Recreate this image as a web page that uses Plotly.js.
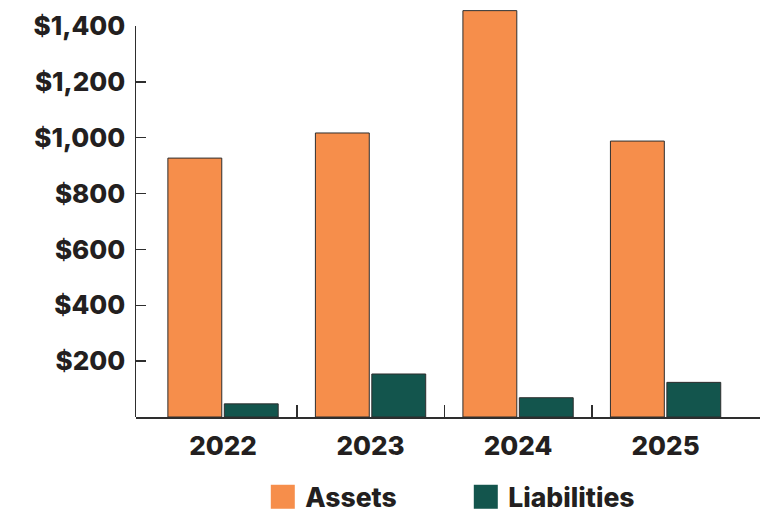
<!DOCTYPE html>
<html>
<head>
<meta charset="utf-8">
<script src="https://cdn.plot.ly/plotly-3.0.1.min.js"></script>
<style>html,body{margin:0;padding:0;background:#fff;}#chart{width:774px;height:514px;}</style>
</head>
<body>
<div id="chart"></div>
<script>
const years = ["2022", "2023", "2024", "2025"];
const assets = [927, 1017, 1455, 988];
const liabilities = [47, 154, 69, 124];
const yTickVals = [200, 400, 600, 800, 1000, 1200, 1400];
const yTickText = ["$200", "$400", "$600", "$800", "$1,000", "$1,200", "$1,400"];
const boundaryTicks = [0.5, 1.5, 2.5, 3.64];

const FONT = "Inter, 'DejaVu Sans', sans-serif";
const INK = "#231f20";
const OUTLINE = "#2e2e2e";

// y scale: 1400 units over 391 px; the plot height extends above so the tallest bar fits
const PLOT_H = 408;
const AXIS_H = 391;
const Y_TOP = 1400 * PLOT_H / AXIS_H;

const data = [
  {type: "bar", name: "Assets", x: years, y: assets,
   marker: {color: "#f68e4b", line: {color: OUTLINE, width: 1}},
   cliponaxis: false, hoverinfo: "skip"},
  {type: "bar", name: "Liabilities", x: years, y: liabilities,
   marker: {color: "#13554d", line: {color: OUTLINE, width: 1}},
   cliponaxis: false, hoverinfo: "skip"},
  {type: "scatter", x: [], y: [], xaxis: "x2", yaxis: "y2", showlegend: false, hoverinfo: "skip"}
];

const layout = {
  width: 774, height: 514,
  margin: {l: 136, r: 14, t: 514 - 97 - PLOT_H, b: 97, autoexpand: false},
  paper_bgcolor: "#ffffff", plot_bgcolor: "rgba(0,0,0,0)",
  barmode: "group", bargap: 0.235, bargroupgap: 0.045,
  font: {family: FONT, color: INK, size: 24, weight: 800},
  showlegend: true,
  legend: {orientation: "h", x: 0.2072, xanchor: "left", xref: "paper",
    y: 0.033, yanchor: "middle", yref: "container",
    font: {family: FONT, size: 26.5, color: INK, weight: 800}, itemwidth: 30,
    entrywidth: 158, entrywidthmode: "pixels",
    bgcolor: "rgba(0,0,0,0)"},
  xaxis: {type: "category", range: [-0.59, 3.64], showgrid: false, zeroline: false,
    showline: true, linecolor: OUTLINE, linewidth: 1.5, ticks: "", anchor: "y",
    tickfont: {family: FONT, size: 26, color: INK, weight: 800}, ticklabelstandoff: 5, fixedrange: true},
  xaxis2: {overlaying: "x", range: [-0.59, 3.64], showgrid: false, zeroline: false,
    showline: false, ticks: "inside", ticklen: 12, tickwidth: 1.5, tickcolor: OUTLINE,
    tickmode: "array", tickvals: boundaryTicks, showticklabels: false, anchor: "y2", side: "bottom"},
  yaxis: {range: [0, Y_TOP], visible: false, fixedrange: true},
  yaxis2: {domain: [0, AXIS_H / PLOT_H], range: [0, 1400], anchor: "x2",
    showgrid: false, zeroline: false, showline: true,
    linecolor: OUTLINE, linewidth: 1.5, ticks: "inside", ticklen: 10, tickwidth: 1.5, tickcolor: OUTLINE,
    tickmode: "array", tickvals: yTickVals, ticktext: yTickText,
    tickfont: {family: FONT, size: 26, color: INK, weight: 800}, ticklabelstandoff: 4, fixedrange: true}
};

Plotly.newPlot("chart", data, layout, {staticPlot: true, displayModeBar: false}).then(function (gd) {
  // enlarge legend swatches to match the reference's large square keys (no outline)
  gd.querySelectorAll(".legend [clip-path]").forEach(function (el) {
    el.removeAttribute("clip-path");
  });
  gd.querySelectorAll(".legend .legendpoints path").forEach(function (p) {
    p.setAttribute("transform", "translate(17.5,0) scale(2)");
    p.style.strokeWidth = "0px";
  });
});
</script>
</body>
</html>
